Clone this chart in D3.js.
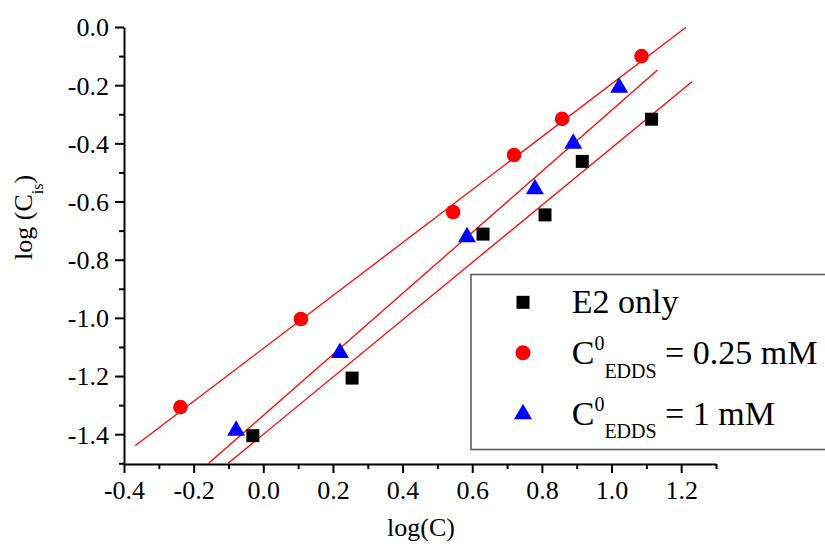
<!DOCTYPE html>
<html>
<head>
<meta charset="utf-8">
<script src="https://cdn.jsdelivr.net/npm/d3@7/dist/d3.min.js"></script>
<style>
  html, body { margin: 0; padding: 0; background: #fff; }
  svg { display: block; }
  svg text { font-family: "Liberation Serif", "Times New Roman", Times, serif !important; }
</style>
</head>
<body>
<svg id="chart" width="825" height="548"></svg>
<script>
// ---- data ----
const e2X   = [-0.030, 0.255, 0.631, 0.809, 0.916, 1.115];
const e2Y   = [-1.405, -1.207, -0.712, -0.646, -0.462, -0.317];
const c025X = [-0.238, 0.108, 0.545, 0.720, 0.858, 1.086];
const c025Y = [-1.307, -1.004, -0.636, -0.440, -0.316, -0.100];
const c1X   = [-0.078, 0.220, 0.585, 0.780, 0.890, 1.022];
const c1Y   = [-1.385, -1.117, -0.719, -0.554, -0.398, -0.205];

// fitted lines: [x0, y0, x1, y1]
const fitE2   = [-0.101, -1.500, 1.231, -0.188];
const fitC025 = [-0.368, -1.440, 1.214, -0.001];
const fitC1   = [-0.157, -1.500, 1.132, -0.148];

const xMajorTicks = [-0.4, -0.2, 0.0, 0.2, 0.4, 0.6, 0.8, 1.0, 1.2];
const xMinorTicks = [-0.3, -0.1, 0.1, 0.3, 0.5, 0.7, 0.9, 1.1, 1.3];
const yMajorTicks = [-1.4, -1.2, -1.0, -0.8, -0.6, -0.4, -0.2, 0.0];
const yMinorTicks = [-1.5, -1.3, -1.1, -0.9, -0.7, -0.5, -0.3, -0.1];

const legendLabels = ["E2 only", "0.25 mM", "1 mM"];

const SERIF = "'Liberation Serif', 'Times New Roman', Times, serif";

// ---- scales ----
const svg = d3.select("#chart");
const x = d3.scaleLinear().domain([-0.4, 1.3]).range([124, 716]);
const y = d3.scaleLinear().domain([-1.5, 0.0]).range([463.3, 27]);

// ---- fit lines ----
const fits = [fitC025, fitC1, fitE2];
svg.append("g").selectAll("line").data(fits).join("line")
  .attr("x1", d => x(d[0])).attr("y1", d => y(d[1]))
  .attr("x2", d => x(d[2])).attr("y2", d => y(d[3]))
  .attr("stroke", "#ff0000").attr("stroke-width", 1.3);

// ---- axes ----
const fmt = d3.format(".1f");
const fmtLabel = v => fmt(v).replace("\u2212", "-");

const yAxis = svg.append("g").attr("transform", "translate(124,0)")
  .call(d3.axisLeft(y).tickValues(yMajorTicks).tickSize(9).tickSizeOuter(0).tickPadding(6).tickFormat(fmtLabel));
const yMinor = svg.append("g").attr("transform", "translate(124,0)")
  .call(d3.axisLeft(y).tickValues(yMinorTicks).tickSize(5).tickSizeOuter(0).tickFormat(""));
yMinor.select(".domain").remove();

const xAxis = svg.append("g").attr("transform", "translate(0,464)")
  .call(d3.axisBottom(x).tickValues(xMajorTicks).tickSize(9).tickSizeOuter(0).tickFormat(fmtLabel));
const xMinor = svg.append("g").attr("transform", "translate(0,464)")
  .call(d3.axisBottom(x).tickValues(xMinorTicks).tickSize(5).tickSizeOuter(0).tickFormat(""));
xMinor.select(".domain").remove();

svg.selectAll("g").attr("font-family", null);
svg.selectAll(".domain").attr("stroke", "#000").attr("stroke-width", 2);
svg.selectAll(".tick line").attr("stroke", "#000").attr("stroke-width", 2);
svg.selectAll(".tick text").attr("font-size", 26).attr("fill", "#000");
yAxis.selectAll(".tick text").attr("dy", "0.34em");
xAxis.selectAll(".tick text").attr("y", 35).attr("dy", 0);

// ---- axis titles ----
svg.append("text").attr("x", 421).attr("y", 536).attr("text-anchor", "middle")
  .attr("font-size", 26).text("log(C)");

const yt = svg.append("text").attr("transform", "translate(32,260) rotate(-90)")
  .attr("font-size", 26);
yt.append("tspan").text("log (C");
yt.append("tspan").attr("font-size", 16).attr("dy", 11).text("is");
yt.append("tspan").attr("dy", -11).text(")");

// ---- markers ----
const zip = (xs, ys) => xs.map((v, i) => [v, ys[i]]);
const sq = 13;
svg.append("g").selectAll("rect").data(zip(e2X, e2Y)).join("rect")
  .attr("x", d => x(d[0]) - sq / 2).attr("y", d => y(d[1]) - sq / 2)
  .attr("width", sq).attr("height", sq).attr("fill", "#000");

svg.append("g").selectAll("circle").data(zip(c025X, c025Y)).join("circle")
  .attr("cx", d => x(d[0])).attr("cy", d => y(d[1])).attr("r", 7.3)
  .attr("fill", "#ff0000");

const tri = (cx, cy) => `M${cx},${cy - 9.5} L${cx + 9},${cy + 6} L${cx - 9},${cy + 6} Z`;
svg.append("g").selectAll("path").data(zip(c1X, c1Y)).join("path")
  .attr("d", d => tri(x(d[0]), y(d[1])))
  .attr("fill", "#0000ff");

// ---- legend ----
const lg = svg.append("g");
lg.append("rect").attr("x", 471).attr("y", 274.5).attr("width", 400).attr("height", 175)
  .attr("fill", "#fff").attr("stroke", "#555").attr("stroke-width", 1.5);

lg.append("rect").attr("x", 523 - 6.5).attr("y", 302.3 - 6.5).attr("width", 13).attr("height", 13).attr("fill", "#000");
lg.append("circle").attr("cx", 523).attr("cy", 352.7).attr("r", 7.5).attr("fill", "#ff0000");
lg.append("path").attr("d", tri(523, 413.3)).attr("fill", "#0000ff");

lg.append("text").attr("x", 571.7).attr("y", 313.3).attr("font-size", 34).text(legendLabels[0]);

function cLabel(baseY, rest) {
  const t = lg.append("text").attr("x", 571.7).attr("y", baseY).attr("font-size", 34);
  t.append("tspan").text("C");
  t.append("tspan").attr("font-size", 20).attr("dy", -14.3).text("0");
  t.append("tspan").attr("font-size", 20).attr("dy", 27.7).text("EDDS");
  t.append("tspan").attr("dy", -13.4).text(" = " + rest);
}
cLabel(364.3, legendLabels[1]);
cLabel(425, legendLabels[2]);

svg.selectAll("text").style("font-family", SERIF);
</script>
</body>
</html>
